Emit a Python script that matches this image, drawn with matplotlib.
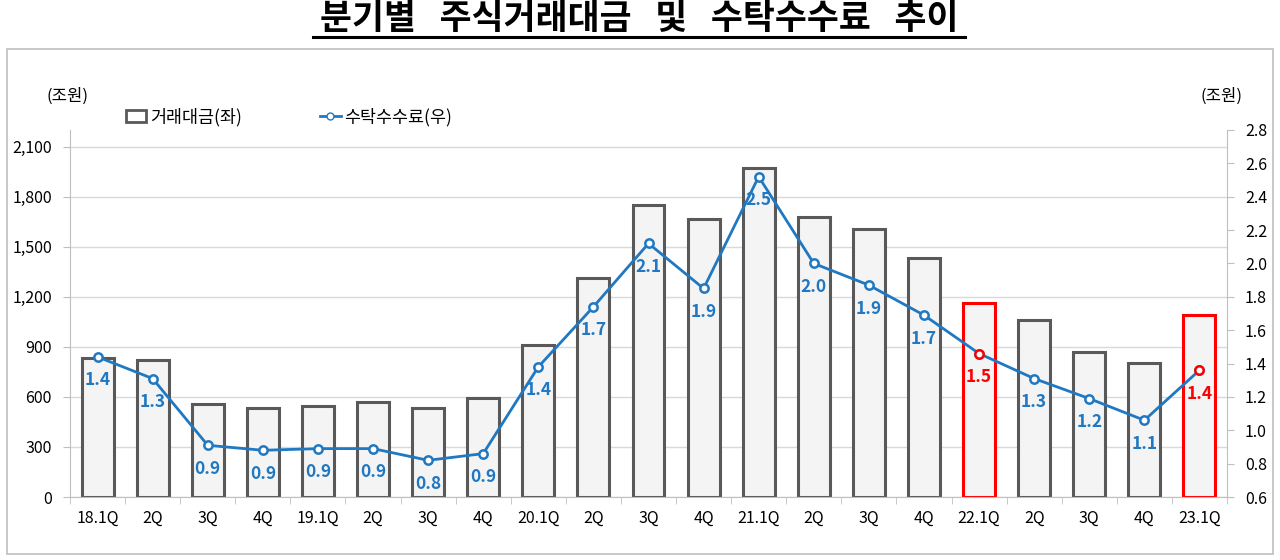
import matplotlib
matplotlib.use("Agg")
import matplotlib.pyplot as plt
from matplotlib.patches import Patch, Rectangle
from matplotlib.lines import Line2D

plt.rcParams['font.family'] = ['Noto Sans CJK KR', 'DejaVu Sans']

categories = ['18.1Q', '2Q', '3Q', '4Q', '19.1Q', '2Q', '3Q', '4Q',
              '20.1Q', '2Q', '3Q', '4Q', '21.1Q', '2Q', '3Q', '4Q',
              '22.1Q', '2Q', '3Q', '4Q', '23.1Q']
trading_value = [835, 822, 558, 534, 546, 570, 534, 594,
                 912, 1314, 1752, 1668, 1974, 1680, 1608, 1434,
                 1164, 1062, 870, 804, 1092]
commission = [1.44, 1.31, 0.91, 0.88, 0.89, 0.89, 0.82, 0.86,
              1.38, 1.74, 2.12, 1.85, 2.52, 2.00, 1.87, 1.69,
              1.46, 1.31, 1.19, 1.06, 1.36]
highlight = ['22.1Q', '23.1Q']
highlight_idx = [16, 20]
left_ticks = [0, 300, 600, 900, 1200, 1500, 1800, 2100]
right_ticks = [0.6, 0.8, 1.0, 1.2, 1.4, 1.6, 1.8, 2.0, 2.2, 2.4, 2.6, 2.8]

BLUE = '#1F78C1'
RED = '#FF0000'
GRAY = '#595959'

fig = plt.figure(figsize=(12.8, 5.6), dpi=100)
fig.patch.set_facecolor('white')

# outer frame
fig.add_artist(Rectangle((7/1280, 1-554/560), (1273-7)/1280, (554-49)/560,
                         transform=fig.transFigure, fill=False,
                         edgecolor='#BFBFBF', linewidth=1.2))

ax = fig.add_axes([70/1280, 1-497/560, (1227-70)/1280, (497-130)/560])
ax2 = ax.twinx()

x = list(range(len(categories)))
edge_colors = [RED if i in highlight_idx else GRAY for i in x]
ax.bar(x, trading_value, width=0.58, color='#F4F4F4', edgecolor=edge_colors,
       linewidth=2.2, zorder=2)
ax.set_xlim(-0.5, len(categories) - 0.5)
ax.set_ylim(0, 2200)
ax.set_yticks(left_ticks)
ax.set_yticklabels([f'{v:,}' for v in left_ticks], fontsize=11.5)
ax.set_xticks(x)
ax.set_xticklabels(categories, fontsize=11.5)
ax.tick_params(axis='x', length=0, pad=9)
ax.set_xticks([i - 0.5 for i in range(len(categories) + 1)], minor=True)
ax.tick_params(axis='x', which='minor', length=5, color='#BFBFBF', direction='out')
ax.tick_params(axis='y', length=5, color='#BFBFBF', pad=8)
ax.grid(axis='y', color='#D9D9D9', linewidth=1, zorder=0)
ax.set_axisbelow(True)
for s in ['top', 'right']:
    ax.spines[s].set_visible(False)
ax.spines['left'].set_color('#BFBFBF')
ax.spines['bottom'].set_color('#BFBFBF')

ax2.plot(x, commission, color=BLUE, linewidth=2, marker='o', markersize=6,
         markerfacecolor='white', markeredgecolor=BLUE, markeredgewidth=1.8,
         zorder=3)
for i in highlight_idx:
    ax2.plot(i, commission[i], marker='o', markersize=6, markerfacecolor='white',
             markeredgecolor=RED, markeredgewidth=1.8, linestyle='none', zorder=4)
for i, v in enumerate(commission):
    c = RED if i in highlight_idx else BLUE
    ax2.annotate(f'{v:.1f}', (i, v), xytext=(0, -17), textcoords='offset points',
                 ha='center', va='center', color=c, fontsize=12.5, fontweight='bold')
ax2.set_ylim(0.6, 2.8)
ax2.set_yticks(right_ticks)
ax2.set_yticklabels([f'{v:.1f}' for v in right_ticks], fontsize=11.5)
ax2.tick_params(axis='y', length=5, color='#BFBFBF', pad=8)
for s in ['top', 'left', 'bottom']:
    ax2.spines[s].set_visible(False)
ax2.spines['right'].set_color('#BFBFBF')

# unit labels
fig.text(68/1280, 1-96/560, '(조원)', ha='center', va='center', fontsize=12)
fig.text(1222/1280, 1-96/560, '(조원)', ha='center', va='center', fontsize=12)

# legend
handles = [Patch(facecolor='white', edgecolor=GRAY, linewidth=2),
           Line2D([0], [0], color=BLUE, linewidth=2, marker='o', markersize=5,
                  markerfacecolor='white', markeredgecolor=BLUE)]
fig.legend(handles, ['거래대금(좌)', '수탁수수료(우)'], loc='center left',
           bbox_to_anchor=(110/1280, 1-117/560), ncol=2, frameon=False,
           fontsize=12.5, handlelength=1.2, handletextpad=0.2, columnspacing=4.5)

# title
fig.text(639/1280, 1-19/560, '분기별   주식거래대금   및   수탁수수료   추이', ha='center',
         va='center', fontsize=25, fontweight='bold')
fig.add_artist(Line2D([313/1280, 965/1280], [1-37/560, 1-37/560],
                      transform=fig.transFigure, color='black', linewidth=2.2))

fig.savefig('out.png', dpi=100, facecolor='white')
